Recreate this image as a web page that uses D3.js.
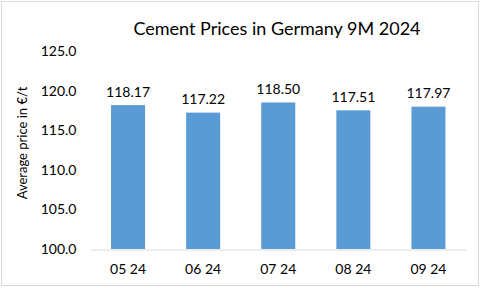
<!DOCTYPE html>
<html>
<head>
<meta charset="utf-8">
<script src="https://cdn.jsdelivr.net/npm/d3@7"></script>
<style>
  body { margin: 0; background: #fff; }
  text { font-family: Lato, "Open Sans", sans-serif; fill: #000; }
</style>
</head>
<body>
<div id="chart"></div>
<script>
// chart data
var months = ["05 24", "06 24", "07 24", "08 24", "09 24"];
var prices = [118.17, 117.22, 118.50, 117.51, 117.97];
var yTicks = [100, 105, 110, 115, 120, 125];
var title = "Cement Prices in Germany 9M 2024";
var yLabel = "Average price in \u20AC/t";

var width = 480, height = 288;
var margin = { top: 51, right: 14, bottom: 39, left: 90.5 };

var svg = d3.select("#chart").append("svg")
	.attr("width", width)
	.attr("height", height);

// outer border
svg.append("rect")
	.attr("x", 1.5).attr("y", 1.5)
	.attr("width", width - 3).attr("height", height - 4)
	.attr("fill", "#fff")
	.attr("stroke", "#d9d9d9");

var x = d3.scaleBand()
	.domain(months)
	.range([margin.left, width - margin.right])
	.paddingInner(0.547)
	.paddingOuter(0.2735);

var y = d3.scaleLinear()
	.domain([100, 125])
	.range([height - margin.bottom, margin.top]);

// title
svg.append("text")
	.attr("x", 277).attr("y", 28)
	.attr("text-anchor", "middle")
	.attr("dominant-baseline", "central")
	.style("font-size", "18px")
	.text(title);

// y axis labels (no line)
var yAxis = svg.append("g")
	.attr("transform", "translate(" + margin.left + ",0)")
	.call(d3.axisLeft(y).tickValues(yTicks).tickFormat(d3.format(".1f")).tickSize(0).tickPadding(14));
yAxis.select(".domain").remove();
yAxis.selectAll("text")
	.style("font-size", "14px")
	.style("font-family", "Lato, 'Open Sans', sans-serif")
	.attr("fill", "#000");

// y axis title
svg.append("text")
	.attr("transform", "translate(22," + 143 + ") rotate(-90)")
	.attr("text-anchor", "middle")
	.attr("dominant-baseline", "central")
	.style("font-size", "13px")
	.text(yLabel);

// bars
svg.selectAll(".bar")
	.data(prices)
	.enter().append("rect")
	.attr("class", "bar")
	.attr("x", function(d, i) { return x(months[i]); })
	.attr("y", function(d) { return y(d); })
	.attr("width", x.bandwidth())
	.attr("height", function(d) { return y(100) - y(d); })
	.attr("fill", "#5b9bd5");

// value labels
svg.selectAll(".val")
	.data(prices)
	.enter().append("text")
	.attr("class", "val")
	.attr("x", function(d, i) { return x(months[i]) + x.bandwidth() / 2; })
	.attr("y", function(d) { return y(d) - 14; })
	.attr("text-anchor", "middle")
	.attr("dominant-baseline", "central")
	.style("font-size", "14px")
	.text(function(d) { return d.toFixed(2); });

// x axis
var xAxis = svg.append("g")
	.attr("transform", "translate(0," + (y(100) + 0.5) + ")")
	.call(d3.axisBottom(x).tickSize(0).tickPadding(15));
xAxis.select(".domain").attr("stroke", "#d9d9d9");
xAxis.selectAll("text")
	.style("font-size", "14px")
	.style("font-family", "Lato, 'Open Sans', sans-serif")
	.attr("fill", "#000");
</script>
</body>
</html>
